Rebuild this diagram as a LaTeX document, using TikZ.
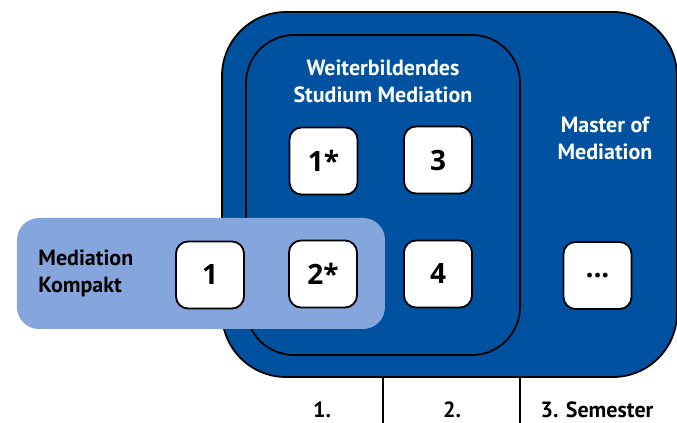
\documentclass[tikz,border=0pt]{standalone}
\usepackage{fontspec}
\setmainfont{PT Sans}
\newfontfamily\numfont{Open Sans}
\usepackage{tikz}

\definecolor{darkblue}{RGB}{0,82,160}
\definecolor{lightblue}{RGB}{133,165,221}

\begin{document}
\begin{tikzpicture}[x=0.5pt,y=-0.5pt,
    module/.style={draw=black,line width=0.9pt,fill=white,rounded corners=6pt,
      minimum width=34pt,minimum height=33.5pt,inner sep=0pt,font=\numfont\fontsize{14}{16}\selectfont\bfseries},
    title/.style={text=white,align=center,font=\fontsize{11}{13.5}\selectfont\bfseries},
    sem/.style={font=\fontsize{11}{12}\selectfont\bfseries}]

    \useasboundingbox (0,0) rectangle (677,423);

    % outer and inner frame
    \draw [fill=darkblue,line width=0.9pt,rounded corners=32pt] (222,12) rectangle (677,377);
    \draw [line width=0.9pt,rounded corners=24pt] (246,35) rectangle (520,355);
    \fill [lightblue,rounded corners=11pt] (17,218) rectangle (385,329);

    \node [title] (w) at (383,81) {Weiterbildendes\\Studium Mediation};
    \node [title] (m) at (605,138) {Master of\\Mediation};
    \node [title,text=black,align=left,anchor=west,inner sep=0pt] (k) at (38,273) {Mediation\\Kompakt};

    \node [module] (a) at (323.5,161) {1*};
    \node [module] (b) at (438,160) {3};
    \node [module] (c) at (210,275) {1};
    \node [module] (d) at (323,274) {2*};
    \node [module] (e) at (438,274) {4};
    \node [module] (f) at (597.5,275.5) {...};

    % semester lines
    \coordinate (s1) at (383,377);
    \coordinate (s2) at (520,377);
    \draw [line width=0.9pt] (s1) -- (383,423);
    \draw [line width=0.9pt] (s2) -- (520,423);

    \node [sem] (p) at (322,410) {1.};
    \node [sem] (q) at (452,410) {2.};
    \node [sem] (r) at (597,410) {3. Semester};

  \end{tikzpicture}
\end{document}
